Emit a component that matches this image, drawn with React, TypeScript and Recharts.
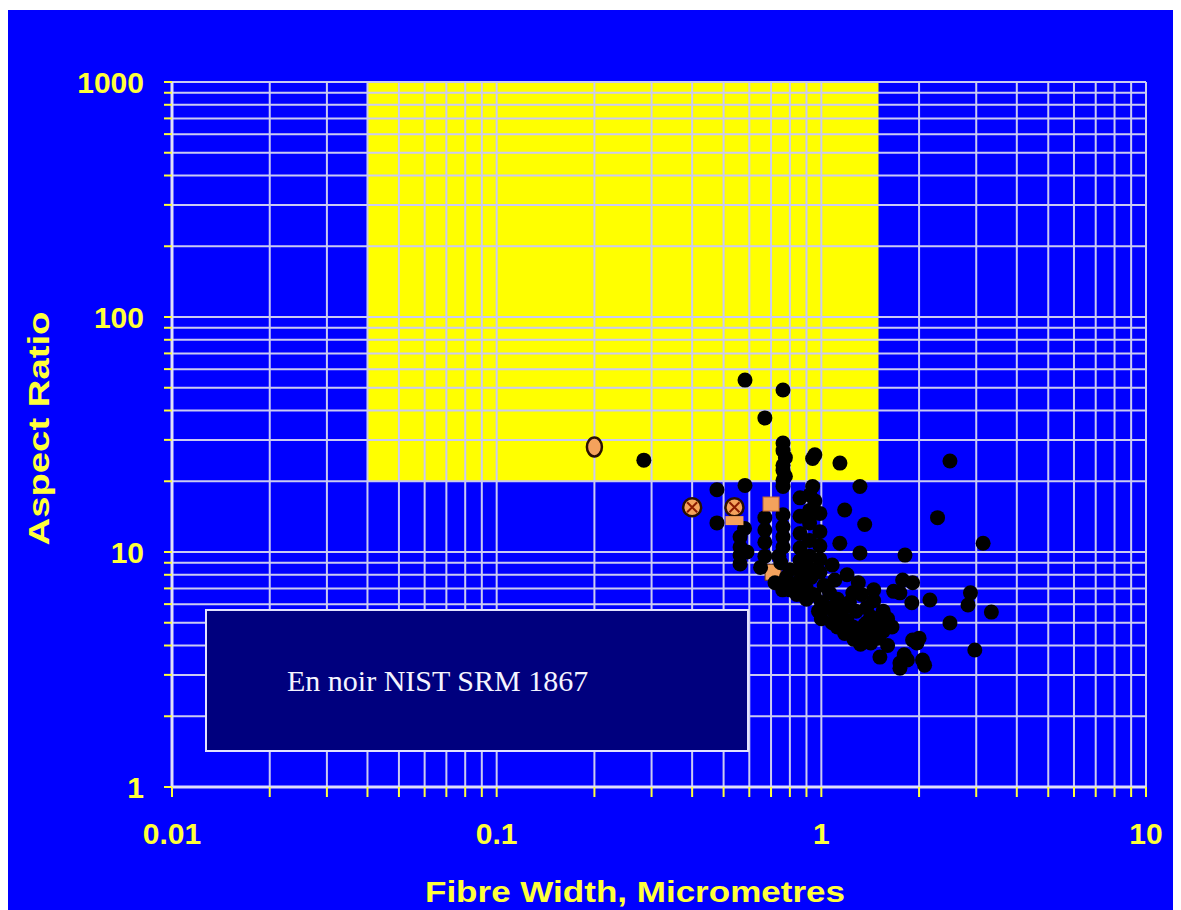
import { ScatterChart, Scatter, XAxis, YAxis, ReferenceArea, ReferenceLine, Label } from 'recharts';

/**
 * Fibre width vs aspect ratio (log/log)
 * Black dots: NIST SRM 1867, orange marks: sample fibres
 */

// fibre width (µm), aspect ratio
const nistPoints: [number, number][] = [
  [0.582, 53.9], [0.762, 48.9], [0.67, 37.2], [0.762, 29.1], [0.762, 27.0], [0.775, 25.2],
  [0.955, 25.9], [0.94, 25.0], [1.141, 23.9], [0.284, 24.6], [2.49, 24.4], [0.762, 23.4],
  [0.762, 22.2], [0.775, 21.0], [0.762, 20.2],
  [0.477, 18.4], [0.582, 19.2], [0.762, 19.0], [0.94, 19.0], [1.315, 19.0], [0.922, 17.5], [0.955, 16.5],
  [0.477, 13.3], [0.58, 12.6], [0.562, 11.6], [0.562, 10.5], [0.562, 9.7], [0.562, 8.9], [0.59, 10.0],
  [0.67, 14.0], [0.67, 12.4], [0.67, 11.0], [0.67, 9.6], [0.65, 8.6],
  [0.762, 14.4], [0.762, 12.8], [0.762, 11.6], [0.762, 10.5], [0.74, 9.6],
  [0.86, 17.0], [0.92, 15.0], [0.86, 14.2], [0.99, 14.6], [0.92, 13.3], [0.86, 12.0], [0.99, 12.2],
  [0.92, 11.2], [0.86, 10.4], [0.99, 10.6], [0.92, 9.6], [0.86, 9.2], [0.99, 9.3], [0.92, 8.5],
  [0.86, 8.3], [0.99, 8.2],
  [1.18, 15.1], [1.36, 13.1], [1.14, 10.9], [1.315, 9.9], [1.08, 8.8], [1.2, 8.0], [1.3, 7.4],
  [1.45, 6.9], [1.1, 7.6], [1.25, 6.7],
  [0.75, 9.0], [0.8, 8.4], [0.78, 7.8], [0.86, 7.6], [0.9, 7.0], [0.82, 7.2], [0.95, 6.6], [0.9, 6.3],
  [1.0, 6.1], [1.05, 5.8], [0.98, 5.6], [1.1, 5.5], [1.15, 5.3], [1.2, 5.1], [1.08, 5.0], [1.25, 4.8],
  [1.3, 4.6], [1.18, 4.5], [1.35, 4.4], [1.26, 4.25], [1.4, 4.2], [1.32, 4.05],
  [0.72, 7.4], [0.76, 6.9], [0.84, 6.6], [0.8, 6.9], [0.93, 7.8], [1.02, 7.2], [1.06, 6.7], [1.12, 6.3],
  [1.0, 5.2], [1.18, 5.8], [1.28, 5.6], [1.22, 6.1], [1.38, 5.0], [1.12, 4.8], [1.45, 4.7], [1.5, 4.3],
  [1.6, 4.0], [1.55, 4.6],
  [1.91, 7.4], [1.746, 6.7], [2.16, 6.25], [1.97, 4.1], [1.515, 3.57], [1.746, 3.37], [2.05, 3.47],
  [2.28, 14.0], [3.15, 10.9], [1.81, 9.7], [1.78, 7.6], [1.67, 6.8], [1.9, 6.08], [2.88, 6.7],
  [2.83, 5.95], [3.34, 5.55],
  [1.33, 6.6], [1.45, 6.2], [1.38, 5.8], [1.55, 5.6], [1.42, 5.3], [1.6, 5.2], [1.5, 5.0], [1.36, 4.9],
  [1.65, 4.8], [2.49, 4.99], [1.91, 4.22], [1.42, 4.1], [1.84, 3.47], [2.08, 3.3], [1.746, 3.2],
  [2.97, 3.83], [1.8, 3.65], [2.0, 4.3],
];

// orange sample marks, one list per symbol
const ovalMarks: [number, number][] = [[0.2, 28]];
const crossMarks: [number, number][] = [[0.4, 15.5], [0.54, 15.5]];
const barMarks: [number, number][] = [[0.54, 13.6]];
const squareMarks: [number, number][] = [[0.7, 16]];
const hiddenSquareMarks: [number, number][] = [[0.71, 8.2]];

// highlighted zone: width 0.04 - 1.5 µm, aspect ratio > 20
const zoneWidth = [0.04, 1.5];
const zoneRatio = [20, 1000];

const xTicks = [
  0.01, 0.02, 0.03, 0.04, 0.05, 0.06, 0.07, 0.08, 0.09,
  0.1, 0.2, 0.3, 0.4, 0.5, 0.6, 0.7, 0.8, 0.9,
  1, 2, 3, 4, 5, 6, 7, 8, 9, 10,
];
const yTicks = [
  1, 2, 3, 4, 5, 6, 7, 8, 9,
  10, 20, 30, 40, 50, 60, 70, 80, 90,
  100, 200, 300, 400, 500, 600, 700, 800, 900, 1000,
];
const xLabels = ['0.01', '0.1', '1', '10'];
const yLabels = ['1', '10', '100', '1000'];

const BLUE = '#0000ff';
const YELLOW = '#ffff00';
const TEXT_YELLOW = '#ffff3a';
const GRID = '#cacaf2';
const ORANGE = '#f4a25c';
const FONT = '"Liberation Sans", Arial, sans-serif';

const toRows = (pts: [number, number][]) => pts.map(([w, ar]) => ({ w, ar }));

const fmtTick = (labels: string[]) => (v: number) => (labels.includes(String(v)) ? String(v) : '');

export default function App() {
  const tickStyle = { fill: TEXT_YELLOW, fontSize: 30, fontWeight: 700, fontFamily: FONT };

  return (
    <div style={{ position: 'relative', width: 1173, height: 900, marginTop: 2, background: BLUE }}>
      <ScatterChart width={1173} height={900} margin={{ top: 72, right: 35, bottom: 0, left: 0 }}>
        <ReferenceArea
          x1={zoneWidth[0]}
          x2={zoneWidth[1]}
          y1={zoneRatio[0]}
          y2={zoneRatio[1]}
          fill={YELLOW}
          fillOpacity={1}
          stroke="none"
        />
        {/* grid drawn as reference lines so it sits on top of the yellow zone */}
        {xTicks.map((v) => (
          <ReferenceLine key={`gx${v}`} x={v} stroke={GRID} strokeWidth={2} />
        ))}
        {yTicks.map((v) => (
          <ReferenceLine key={`gy${v}`} y={v} stroke={GRID} strokeWidth={2} />
        ))}
        <XAxis
          dataKey="w"
          type="number"
          scale="log"
          domain={[0.01, 10]}
          ticks={xTicks}
          interval={0}
          allowDataOverflow
          tickFormatter={fmtTick(xLabels)}
          tick={tickStyle}
          tickSize={10}
          tickMargin={26}
          tickLine={{ stroke: TEXT_YELLOW, strokeWidth: 2 }}
          axisLine={{ stroke: '#dedefa', strokeWidth: 3 }}
          height={123}
        >
          <Label
            content={(p: any) => {
              const vb = p.viewBox;
              return (
                <text
                  x={vb.x + vb.width / 2 - 24}
                  y={vb.y + 104}
                  textAnchor="middle"
                  dominantBaseline="central"
                  fill={TEXT_YELLOW}
                  fontSize={30}
                  fontWeight={700}
                  fontFamily={FONT}
                  textLength={420}
                  lengthAdjust="spacingAndGlyphs"
                >
                  Fibre Width, Micrometres
                </text>
              );
            }}
          />
        </XAxis>
        <YAxis
          dataKey="ar"
          type="number"
          scale="log"
          domain={[1, 1000]}
          ticks={yTicks}
          interval={0}
          allowDataOverflow
          tickFormatter={fmtTick(yLabels)}
          tick={tickStyle}
          tickSize={8}
          tickMargin={20}
          tickLine={{ stroke: TEXT_YELLOW, strokeWidth: 2 }}
          axisLine={{ stroke: '#dedefa', strokeWidth: 3 }}
          width={164}
        >
          <Label
            content={(p: any) => {
              const vb = p.viewBox;
              const cx = vb.x + 30;
              const cy = vb.y + vb.height / 2 - 6;
              return (
                <text
                  x={cx}
                  y={cy}
                  transform={`rotate(-90 ${cx} ${cy})`}
                  textAnchor="middle"
                  dominantBaseline="central"
                  fill={TEXT_YELLOW}
                  fontSize={30}
                  fontWeight={700}
                  fontFamily={FONT}
                  textLength={234}
                  lengthAdjust="spacingAndGlyphs"
                >
                  Aspect Ratio
                </text>
              );
            }}
          />
        </YAxis>
        <Scatter
          data={toRows(hiddenSquareMarks)}
          isAnimationActive={false}
          shape={(p: any) => (
            <rect x={p.cx - 8} y={p.cy - 8} width={16} height={16} fill={ORANGE} stroke="#6a3a10" strokeWidth={1} />
          )}
        />
        <Scatter
          data={toRows(nistPoints)}
          isAnimationActive={false}
          shape={(p: any) => <circle cx={p.cx} cy={p.cy} r={7.5} fill="#000" />}
        />
        <Scatter
          data={toRows(ovalMarks)}
          isAnimationActive={false}
          shape={(p: any) => (
            <ellipse cx={p.cx} cy={p.cy} rx={7.5} ry={9.5} fill={ORANGE} stroke="#2a1000" strokeWidth={2.5} />
          )}
        />
        <Scatter
          data={toRows(crossMarks)}
          isAnimationActive={false}
          shape={(p: any) => (
            <g>
              <circle cx={p.cx} cy={p.cy} r={9} fill={ORANGE} stroke="#2a1000" strokeWidth={2.5} />
              <path
                d={`M${p.cx - 5},${p.cy - 5}L${p.cx + 5},${p.cy + 5}M${p.cx + 5},${p.cy - 5}L${p.cx - 5},${p.cy + 5}`}
                stroke="#8a1a00"
                strokeWidth={2}
              />
            </g>
          )}
        />
        <Scatter
          data={toRows(barMarks)}
          isAnimationActive={false}
          shape={(p: any) => <rect x={p.cx - 9} y={p.cy - 4.5} width={18} height={9} fill={ORANGE} />}
        />
        <Scatter
          data={toRows(squareMarks)}
          isAnimationActive={false}
          shape={(p: any) => (
            <rect x={p.cx - 8} y={p.cy - 7} width={16} height={14} fill={ORANGE} stroke="#c06a30" strokeWidth={1} />
          )}
        />
      </ScatterChart>
      <div
        style={{
          position: 'absolute',
          left: 197,
          top: 599,
          width: 460,
          height: 139,
          background: '#00007e',
          border: '2px solid #e2e2ff',
          display: 'flex',
          alignItems: 'center',
          paddingLeft: 80,
          boxSizing: 'content-box',
          color: '#f4f4ff',
          fontFamily: '"Liberation Serif", "Times New Roman", serif',
          fontSize: 30,
        }}
      >
        En noir NIST SRM 1867
      </div>
    </div>
  );
}
